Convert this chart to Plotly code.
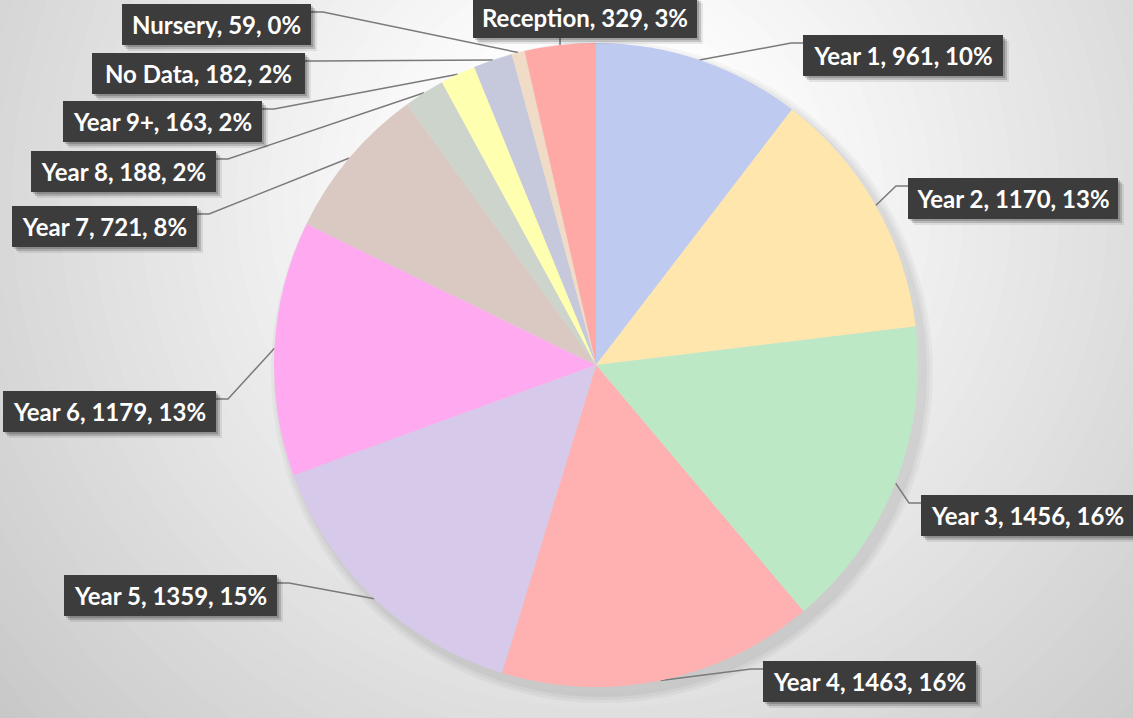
import math
import plotly.graph_objects as go

# ---------------- data ----------------
categories = ["Year 1", "Year 2", "Year 3", "Year 4", "Year 5", "Year 6",
              "Year 7", "Year 8", "Year 9+", "No Data", "Nursery", "Reception"]
values = [961, 1170, 1456, 1463, 1359, 1179, 721, 188, 163, 182, 59, 329]
percent_labels = ["10%", "13%", "16%", "16%", "15%", "13%",
                  "8%", "2%", "2%", "2%", "0%", "3%"]

# ---------------- styles / layout ----------------
colors = ["#bfcaf1", "#ffe6ad", "#bde8c6", "#ffb0b0", "#d6c9e9", "#ffaaf0",
          "#dac8c3", "#cdd4cb", "#ffffb0", "#c6c9dc", "#f0dcc6", "#ffa9a6"]

W, H = 1133, 718
CX, CY, R = 596, 365, 322
BOX_H = 41

# label box placement: (anchor side, x of anchored edge, y of top edge, box width)
label_place = {
    "Year 1": ("left", 803, 35, 200),
    "Year 2": ("left", 908, 178, 210),
    "Year 3": ("left", 921, 495, 213),
    "Year 4": ("left", 763, 661, 213),
    "Year 5": ("right", 277, 575, 213),
    "Year 6": ("right", 216, 391, 213),
    "Year 7": ("right", 197, 206, 185),
    "Year 8": ("right", 216, 151, 185),
    "Year 9+": ("right", 262, 101, 199),
    "No Data": ("right", 305, 53, 213),
    "Nursery": ("right", 311, 4, 189),
    "Reception": ("bottom", 585, 38, 224),
}

fig = go.Figure()

fig.add_trace(go.Pie(
    labels=categories, values=values, sort=False, direction="clockwise",
    rotation=0, textinfo="none", hoverinfo="label+value+percent",
    marker=dict(colors=colors, line=dict(width=0)),
    domain=dict(x=[(CX - R) / W, (CX + R) / W],
                y=[(H - CY - R) / H, (H - CY + R) / H]),
    showlegend=False,
))

shapes = []

# radial background gradient (opaque stepped circles)
GX, GY = 600, 200
for r in range(780, 100, -16):
    g = int(round(max(200, min(252, 255 - (r - 150) * 0.085))))
    col = f"rgb({g},{g},{g})"
    shapes.append(dict(type="circle", xref="x", yref="y", layer="below",
                       x0=GX - r, x1=GX + r, y0=GY - r, y1=GY + r,
                       fillcolor=col, line=dict(width=0)))
# soft pie shadow, offset to bottom-right
for d, a in [(9, 0.03), (6, 0.035), (3, 0.04)]:
    shapes.append(dict(type="circle", xref="x", yref="y", layer="below",
                       x0=CX - R - d + 6, x1=CX + R + d + 6,
                       y0=CY - R - d + 7, y1=CY + R + d + 7,
                       fillcolor=f"rgba(0,0,0,{a})", line=dict(width=0)))

# leader lines computed from slice mid-angles, plus label boxes
total = sum(values)
cum = 0
annotations = []
for cat, val, pct in zip(categories, values, percent_labels):
    frac = (cum + val / 2) / total
    cum += val
    th = 2 * math.pi * frac
    ex = CX + R * math.sin(th)
    ey = CY - R * math.cos(th)
    side, bx, by, bw = label_place[cat]
    if side == "bottom":
        xs = [ex, ex]
        ys = [by, ey]
        left, top = bx - bw / 2, by - BOX_H
    else:
        ay = by + 8
        stub = bx + (12 if side == "right" else -12)
        xs = [bx, stub, ex]
        ys = [ay, ay, ey]
        left = bx - bw if side == "right" else bx
        top = by
    fig.add_trace(go.Scatter(x=xs, y=ys, mode="lines",
                             line=dict(color="#7a7a7a", width=1.5),
                             hoverinfo="skip", showlegend=False))
    # drop shadow (blurred look by layered rects)
    for off, a in [(2, 0.18), (4, 0.16), (6, 0.08)]:
        shapes.append(dict(type="rect", xref="x", yref="y", layer="above",
                           x0=left + off, x1=left + bw + off,
                           y0=top + off, y1=top + BOX_H + off,
                           fillcolor=f"rgba(0,0,0,{a})", line=dict(width=0)))
    annotations.append(dict(
        text=f"{cat}, {val}, {pct}", xref="x", yref="y", showarrow=False,
        x=left + bw / 2, y=top + BOX_H / 2, xanchor="center", yanchor="middle",
        width=bw, height=BOX_H, align="center", valign="middle",
        bgcolor="#3c3c3c", borderpad=0, borderwidth=0,
        font=dict(family="Lato", size=24, color="white", weight="bold")))

fig.update_layout(
    width=W, height=H,
    margin=dict(l=0, r=0, t=0, b=0),
    paper_bgcolor="#c8c8c8", plot_bgcolor="rgba(0,0,0,0)",
    xaxis=dict(range=[0, W], visible=False, fixedrange=True, domain=[0, 1]),
    yaxis=dict(range=[H, 0], visible=False, fixedrange=True, domain=[0, 1]),
    annotations=annotations, shapes=shapes,
    showlegend=False,
)

fig.write_html("out.html", config={"displayModeBar": False},
               post_script="document.body.style.margin='0px';")
